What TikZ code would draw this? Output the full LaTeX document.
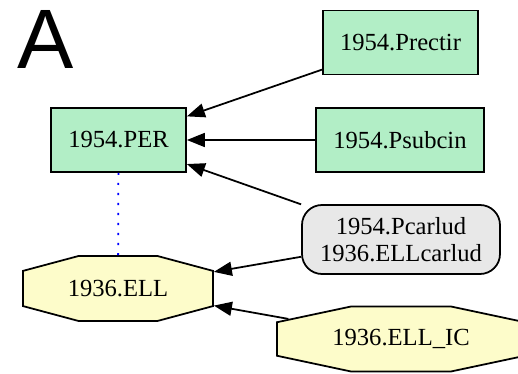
\documentclass[tikz,border=0pt]{standalone}
\usepackage{fontspec}
\setmainfont{Liberation Serif}
\newfontfamily\panelfont{Liberation Sans}
\usetikzlibrary{arrows.meta}
\usetikzlibrary{shapes.misc}
\definecolor{boxgreen}{RGB}{178,238,198}
\definecolor{octyellow}{RGB}{253,252,202}
\definecolor{pairgray}{RGB}{232,232,232}
\tikzset{
  recbox/.style={rectangle,draw=black,line width=1pt,fill=boxgreen,font=\fontsize{14}{15}\selectfont,minimum height=1.28cm},
  octbox/.style={chamfered rectangle,chamfered rectangle ysep=0.4cm,draw=black,line width=1pt,fill=octyellow,font=\fontsize{14}{15}\selectfont,minimum height=1.3cm,inner sep=0pt},
  pairbox/.style={rectangle,rounded corners=0.4cm,draw=black,line width=1pt,fill=pairgray,font=\fontsize{14}{15}\selectfont,align=center,minimum width=3.96cm,minimum height=1.38cm},
  linkarr/.style={-{Triangle[length=0.36cm,width=0.28cm]},black,line width=1pt},
}

\begin{document}
\begin{tikzpicture}
\useasboundingbox (0,0) rectangle (10.36,7.48);
\node[font=\panelfont\fontsize{48}{48}\selectfont,text=black] (panel) at (0.92, 6.70) {A};

\node[recbox,minimum width=3.1cm] (prectir) at (8.01, 6.63) {1954.Prectir};
\node[recbox,minimum width=2.7cm] (per) at (2.37, 4.68) {1954.PER};
\node[recbox,minimum width=3.36cm] (psubcin) at (8.0, 4.68) {1954.Psubcin};
\node[pairbox] (pcarlud) at (8.02, 2.69) {1954.Pcarlud\\1936.ELLcarlud};
\node[octbox,chamfered rectangle angle=75,minimum width=3.8cm] (ell) at (2.36, 1.71) {1936.ELL};
\node[octbox,chamfered rectangle angle=78,minimum width=4.96cm] (ellic) at (8.02, 0.70) {1936.ELL\_IC};

\draw[linkarr] (prectir) -- (per);
\draw[linkarr] (psubcin) -- (per);
\draw[linkarr] (pcarlud) -- (per);
\draw[linkarr] (pcarlud) -- (ell);
\draw[linkarr] (ellic) -- (ell);
\draw[blue,line width=1pt,dash pattern=on 1.2pt off 4.5pt] (per) -- (ell);

\end{tikzpicture}
\end{document}
